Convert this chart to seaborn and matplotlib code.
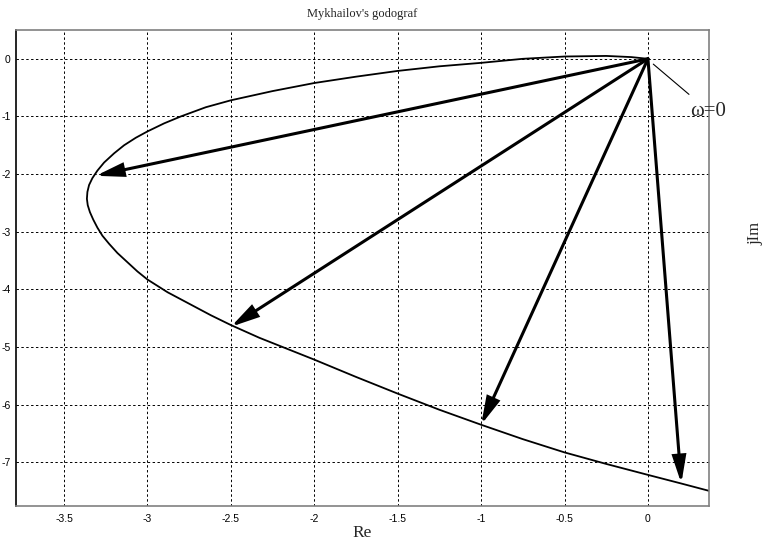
import matplotlib
matplotlib.use('Agg')
import matplotlib.pyplot as plt
import numpy as np
import pandas as pd
import seaborn as sns

# hodograph points (Re, Im)
re_vals = [0.0, -0.1, -0.25, -0.5, -0.75, -1.0, -1.25, -1.5, -1.75, -2.0, -2.25, -2.5,
           -2.65, -2.8, -2.9, -3.0, -3.07, -3.14, -3.2, -3.26, -3.3, -3.33, -3.35, -3.36,
           -3.363, -3.358, -3.345, -3.325, -3.3, -3.27, -3.23, -3.18, -3.12, -3.06, -3.0,
           -2.88, -2.75, -2.62, -2.5, -2.33, -2.0, -1.75, -1.5, -1.25, -1.0, -0.75, -0.5,
           -0.25, 0.0, 0.2, 0.37]
im_vals = [0.0, 0.03, 0.05, 0.04, 0.0, -0.07, -0.13, -0.21, -0.31, -0.42, -0.56, -0.72,
           -0.84, -1.0, -1.12, -1.26, -1.37, -1.50, -1.64, -1.80, -1.94, -2.07, -2.19, -2.31,
           -2.43, -2.54, -2.66, -2.79, -2.93, -3.07, -3.21, -3.37, -3.53, -3.69, -3.83,
           -4.05, -4.25, -4.45, -4.62, -4.84, -5.22, -5.52, -5.81, -6.09, -6.35, -6.60,
           -6.83, -7.03, -7.22, -7.37, -7.50]

# vectors drawn from the origin
arrow_re = [-3.31, -2.5, -1.0, 0.2]
arrow_im = [-2.03, -4.65, -6.35, -7.37]

xtick_vals = [-3.5, -3, -2.5, -2, -1.5, -1, -0.5, 0]
ytick_vals = [0, -1, -2, -3, -4, -5, -6, -7]

sns.set_theme(style='white')
plt.rcParams['font.family'] = ['Liberation Sans', 'DejaVu Sans']

df = pd.DataFrame({'Re': re_vals, 'Im': im_vals})

fig = plt.figure(figsize=(7.68, 5.42), dpi=100)
ax = fig.add_axes([16/768, 1 - 506/542, (709 - 16)/768, (506 - 30)/542])

sns.lineplot(data=df, x='Re', y='Im', sort=False, estimator=None, color='black',
             lw=1.3, ax=ax)

for xe, ye in zip(arrow_re, arrow_im):
    ax.annotate('', xy=(xe, ye), xytext=(0, 0),
                arrowprops=dict(arrowstyle='-|>,head_length=0.8,head_width=0.2',
                                lw=2.2, color='black', shrinkA=0, shrinkB=0,
                                mutation_scale=20, joinstyle='miter'))

# omega=0 marker
ax.plot([0.032, 0.246], [-0.092, -0.617], color='black', lw=0.8)
ax.text(0.25, -0.92, 'ω=0', family=['Liberation Serif', 'DejaVu Serif'], fontsize=15,
        ha='left', va='center', clip_on=False)

ax.set_xlim(-3.788, 0.366)
ax.set_ylim(-7.76, 0.5)
ax.set_xticks(xtick_vals)
ax.set_xticklabels(['%g' % v for v in xtick_vals])
ax.set_yticks(ytick_vals)
ax.set_yticklabels(['%g' % v for v in ytick_vals])
ax.tick_params(labelsize=7.5, direction='in', length=4, pad=6, colors='black')
ax.tick_params(axis='y', pad=4)

ax.grid(True, color='black', linestyle=(0, (2.5, 2.5)), lw=0.7)
for side in ['top', 'right', 'bottom']:
    ax.spines[side].set_color('#808080')
ax.spines['left'].set_color('black')
for s in ax.spines.values():
    s.set_linewidth(1.2)

ax.set_xlabel('')
ax.set_ylabel('')
serif = ['Liberation Serif', 'DejaVu Serif']
fig.text(362.5/768, 1 - 14/542, "Mykhailov's godograf", family=serif, fontsize=9,
         ha='center', va='center')
fig.text(362.5/768, 1 - 533/542, 'Re', family=serif, fontsize=12.5,
         ha='center', va='center')
fig.text(755/768, 1 - 233/542, 'jIm', family=serif, fontsize=12,
         rotation=90, ha='center', va='center')

fig.savefig('out.png', dpi=100)
